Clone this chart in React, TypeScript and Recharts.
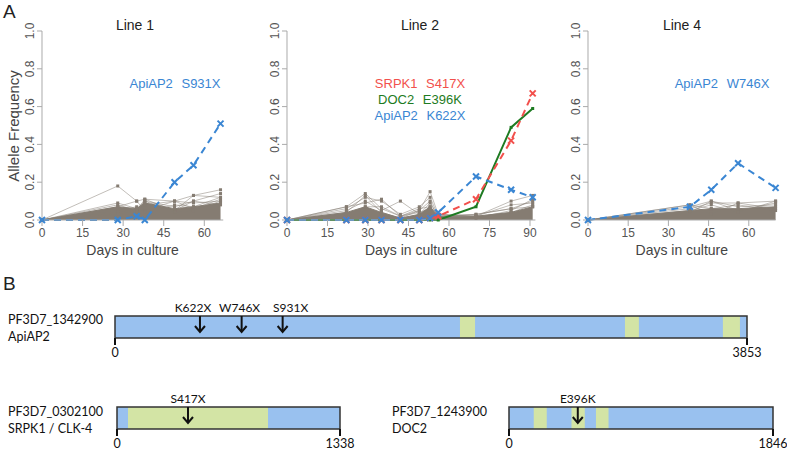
import React from 'react';
import {
  ComposedChart, Line, Area, XAxis, YAxis, ReferenceArea, Scatter,
} from 'recharts';

// ---- panel A: allele frequency over time ----
const L1_DAYS = [0, 28, 35, 38, 49, 56, 66];
const L1_APIAP2_S931X = [0, 0, 0.02, 0, 0.2, 0.29, 0.51];
const L1_MASS = [0, 0.07, 0.06, 0.09, 0.06, 0.07, 0.09];
const L1_GRAY = [
  [0, 0.18, 0.1, 0.11, 0.1, 0.13, 0.16],
  [0, 0.09, 0.06, 0.1, 0.07, 0.1, 0.14],
  [0, 0.08, 0.05, 0.11, 0.05, 0.13, 0.12],
  [0, 0.07, 0.1, 0.05, 0.1, 0.06, 0.11],
  [0, 0.06, 0.04, 0.08, 0.1, 0.09, 0.1],
  [0, 0.05, 0.07, 0.04, 0.08, 0.07, 0.12],
  [0, 0.04, 0.06, 0.09, 0.05, 0.1, 0.08],
  [0, 0.03, 0.05, 0.1, 0.04, 0.05, 0.1],
];

const L2_DAYS = [0, 22, 29, 35, 42, 49, 53, 56, 70, 83, 91];
const L2_SRPK1_S417X = [0, 0, 0, 0, 0, 0, 0.01, 0.02, 0.11, 0.42, 0.67];
const L2_DOC2_E396K = [0, 0, 0, 0, 0, 0, 0, 0, 0.07, 0.49, 0.59];
const L2_APIAP2_K622X = [0, 0, 0, 0, 0, 0, 0.01, 0.04, 0.23, 0.16, 0.12];
const L2_MASS = [0, 0.04, 0.07, 0.04, 0.01, 0.03, 0.07, 0.02, 0.02, 0.04, 0.07];
const L2_GRAY = [
  [0, 0.07, 0.14, 0.06, 0.02, 0.05, 0.15, 0.03, 0.02, 0.1, 0.13],
  [0, 0.06, 0.12, 0.1, 0.03, 0.07, 0.12, 0.02, 0.03, 0.06, 0.1],
  [0, 0.05, 0.1, 0.05, 0.1, 0.03, 0.09, 0.02, 0.01, 0.05, 0.11],
  [0, 0.07, 0.09, 0.11, 0.02, 0.06, 0.07, 0.03, 0.02, 0.08, 0.09],
  [0, 0.04, 0.13, 0.04, 0.01, 0.05, 0.1, 0.01, 0.02, 0.04, 0.08],
  [0, 0.03, 0.07, 0.07, 0.02, 0.04, 0.06, 0.02, 0.03, 0.06, 0.07],
];

const L4_DAYS = [0, 38, 46, 56, 70];
const L4_APIAP2_W746X = [0, 0.07, 0.16, 0.3, 0.17];
const L4_MASS = [0, 0.05, 0.06, 0.06, 0.07];
const L4_GRAY = [
  [0, 0.08, 0.03, 0.09, 0.1],
  [0, 0.07, 0.1, 0.05, 0.09],
  [0, 0.06, 0.09, 0.09, 0.06],
  [0, 0.05, 0.08, 0.04, 0.1],
  [0, 0.08, 0.06, 0.08, 0.05],
  [0, 0.04, 0.1, 0.07, 0.08],
];

const Y_TICKS = [0, 0.2, 0.4, 0.6, 0.8, 1.0];

// ---- panel B: gene models ----
const APIAP2_LEN = 3853;
const APIAP2_DOMAINS = [[2103, 2195], [3109, 3194], [3706, 3810]];
const APIAP2_MUTS = [
  { pos: 518, name: 'K622X' },
  { pos: 772, name: 'W746X' },
  { pos: 1022, name: 'S931X' },
];
const SRPK1_LEN = 1338;
const SRPK1_DOMAINS = [[66, 906]];
const SRPK1_MUTS = [{ pos: 426, name: 'S417X' }];
const DOC2_LEN = 1846;
const DOC2_DOMAINS = [[173, 264], [437, 530], [608, 696]];
const DOC2_MUTS = [{ pos: 481, name: 'E396K' }];

const BLUE = '#3a86d3';
const RED = '#f2504c';
const GREEN = '#1e7b22';
const GRAY = '#857c72';
const FONT_A = 'Liberation Sans, Arial, sans-serif';
const FONT_B = 'Lato, sans-serif';

// labels above the ApiAP2 arrows sit a little apart from the arrows themselves
const LABEL_NUDGE: Record<string, number> = { K622X: -7, W746X: -2, S931X: 8 };

const XDot = (props: any) => {
  const { cx, cy, stroke } = props;
  if (cx == null || cy == null) return null;
  return (
    <path d={`M${cx - 3},${cy - 3}L${cx + 3},${cy + 3}M${cx - 3},${cy + 3}L${cx + 3},${cy - 3}`}
      stroke={stroke} strokeWidth={2} fill="none" />
  );
};
const SquareDot = (props: any) => {
  const { cx, cy, stroke } = props;
  if (cx == null || cy == null) return null;
  return <rect x={cx - 1.5} y={cy - 1.5} width={3} height={3} fill={stroke} />;
};
const GrayDot = (props: any) => {
  const { cx, cy } = props;
  if (cx == null || cy == null) return null;
  return <rect x={cx - 1.5} y={cy - 1.5} width={3} height={3} fill={GRAY} />;
};

const YTick = (props: any) => {
  const { x, y, payload } = props;
  const bx = x - 1;
  return (
    <text x={bx} y={y} transform={`rotate(-90 ${bx} ${y})`} textAnchor="middle"
      fontSize={12} fill="#555" fontFamily={FONT_A}>
      {Number(payload.value).toFixed(1)}
    </text>
  );
};

type Highlight = { key: string; values: number[]; color: string; dashed: boolean; dot: any };

function FreqPanel({ plotLeft, maxDay, pxPerDay, ticks, days, gray, mass, highlights }: {
  plotLeft: number; maxDay: number; pxPerDay: number; ticks: number[]; days: number[];
  gray: number[][]; mass: number[]; highlights: Highlight[];
}) {
  const data = days.map((d, i) => {
    const row: any = { day: d, mass: mass[i] };
    gray.forEach((g, j) => { row['g' + j] = g[i]; });
    highlights.forEach((h) => { row[h.key] = h.values[i]; });
    return row;
  });
  const plotW = maxDay * pxPerDay;
  const yAxisW = 30;
  return (
    <div style={{ position: 'absolute', left: plotLeft - yAxisW, top: 0 }}>
      <ComposedChart width={yAxisW + plotW + 6} height={265} data={data}
        margin={{ top: 31, right: 6, bottom: 0, left: 0 }}>
        <XAxis dataKey="day" type="number" domain={[0, maxDay]} ticks={ticks} height={45}
          stroke="#aaa" tick={{ fill: '#555', fontSize: 12, fontFamily: FONT_A }}
          tickSize={6} tickMargin={2}
          label={{ value: 'Days in culture', position: 'insideBottom', offset: 10, fill: '#444', fontSize: 14, fontFamily: FONT_A }} />
        <YAxis type="number" domain={[0, 1]} ticks={Y_TICKS} width={yAxisW} stroke="#aaa"
          tick={<YTick />} tickSize={5} tickMargin={2} />
        {gray.map((_, j) => (
          <Line key={'g' + j} dataKey={'g' + j} stroke={GRAY} strokeOpacity={0.5} strokeWidth={1}
            dot={<GrayDot />} activeDot={false} isAnimationActive={false} />
        ))}
        <Area dataKey="mass" type="linear" fill={GRAY} fillOpacity={1} stroke={GRAY}
          strokeWidth={1} isAnimationActive={false} dot={<GrayDot />} activeDot={false} />
        {highlights.map((h) => (
          <Line key={h.key} dataKey={h.key} stroke={h.color} strokeWidth={2}
            strokeDasharray={h.dashed ? '7 5' : undefined} dot={h.dot} activeDot={false}
            isAnimationActive={false} />
        ))}
      </ComposedChart>
    </div>
  );
}

const ArrowShape = (props: any) => {
  const { cx, cy, payload } = props;
  const nudge = LABEL_NUDGE[payload.name] || 0;
  return (
    <g>
      <text x={cx + nudge} y={cy - 4} textAnchor="middle" fontSize={12} fontFamily={FONT_B} fill="#111">
        {payload.name}
      </text>
      <line x1={cx} y1={cy} x2={cx} y2={cy + 16} stroke="#111" strokeWidth={2} />
      <path d={`M${cx - 5},${cy + 10}L${cx},${cy + 16}L${cx + 5},${cy + 10}`} stroke="#111"
        strokeWidth={2} fill="none" />
    </g>
  );
};

function GeneTrack({ left, top, plotW, length, domains, muts }: {
  left: number; top: number; plotW: number; length: number;
  domains: number[][]; muts: { pos: number; name: string }[];
}) {
  const pts = muts.map((m) => ({ x: m.pos, y: 1, name: m.name }));
  return (
    <div style={{ position: 'absolute', left: left - 20, top: top - 24 }}>
      <ComposedChart width={plotW + 40} height={68} margin={{ top: 24, right: 20, bottom: 0, left: 20 }}>
        <XAxis dataKey="x" type="number" domain={[0, length]} ticks={[0, length]} height={22}
          axisLine={false} tickSize={7} tickMargin={3} tickLine={{ stroke: '#111', strokeWidth: 2 }}
          tick={{ fill: '#111', fontSize: 12.5, fontFamily: FONT_B }} interval={0} />
        <YAxis dataKey="y" type="number" domain={[0, 1]} hide />
        <ReferenceArea x1={0} x2={length} y1={0} y2={1} fill="#99c1ef" fillOpacity={1} stroke="none" />
        {domains.map((d, i) => (
          <ReferenceArea key={i} x1={d[0]} x2={d[1]} y1={0} y2={1} fill="#d3e4a5" fillOpacity={1} stroke="none" />
        ))}
        <ReferenceArea x1={0} x2={length} y1={0} y2={1} fill="none" stroke="#333" strokeWidth={1.5} />
        <Scatter data={pts} shape={<ArrowShape />} isAnimationActive={false} />
      </ComposedChart>
    </div>
  );
}

const txt = (s: any): React.CSSProperties => ({ position: 'absolute', whiteSpace: 'nowrap', lineHeight: 1, ...s });
const geneLabel = { fontSize: 12.5, fontFamily: FONT_B, color: '#111' };

export default function App() {
  return (
    <div style={{ position: 'absolute', left: 0, top: 0, width: 787, height: 453, background: '#fff', overflow: 'hidden' }}>
      <div style={txt({ left: 3, top: 2, fontSize: 19, fontFamily: FONT_A, color: '#222' })}>A</div>
      <div style={txt({ left: 3, top: 274, fontSize: 19, fontFamily: FONT_A, color: '#222' })}>B</div>
      <div style={txt({ left: 13, top: 126, fontSize: 15, fontFamily: FONT_A, color: '#444', transform: 'translate(-50%,-50%) rotate(-90deg)' })}>
        Allele Frequency
      </div>

      <FreqPanel plotLeft={42} maxDay={67} pxPerDay={2.705} ticks={[0, 15, 30, 45, 60]}
        days={L1_DAYS} gray={L1_GRAY} mass={L1_MASS}
        highlights={[{ key: 'a', values: L1_APIAP2_S931X, color: BLUE, dashed: true, dot: <XDot /> }]} />
      <FreqPanel plotLeft={287} maxDay={92} pxPerDay={2.7} ticks={[0, 15, 30, 45, 60, 75, 90]}
        days={L2_DAYS} gray={L2_GRAY} mass={L2_MASS}
        highlights={[
          { key: 'g', values: L2_DOC2_E396K, color: GREEN, dashed: false, dot: <SquareDot /> },
          { key: 'r', values: L2_SRPK1_S417X, color: RED, dashed: true, dot: <XDot /> },
          { key: 'b', values: L2_APIAP2_K622X, color: BLUE, dashed: true, dot: <XDot /> },
        ]} />
      <FreqPanel plotLeft={588} maxDay={70} pxPerDay={2.68} ticks={[0, 15, 30, 45, 60]}
        days={L4_DAYS} gray={L4_GRAY} mass={L4_MASS}
        highlights={[{ key: 'a', values: L4_APIAP2_W746X, color: BLUE, dashed: true, dot: <XDot /> }]} />

      <div style={txt({ left: 135, top: 25, fontSize: 14, fontFamily: FONT_A, color: '#222', transform: 'translate(-50%,-50%)' })}>Line 1</div>
      <div style={txt({ left: 420, top: 25, fontSize: 14, fontFamily: FONT_A, color: '#222', transform: 'translate(-50%,-50%)' })}>Line 2</div>
      <div style={txt({ left: 682, top: 25, fontSize: 14, fontFamily: FONT_A, color: '#222', transform: 'translate(-50%,-50%)' })}>Line 4</div>

      <div style={txt({ left: 175, top: 83, fontSize: 13, fontFamily: FONT_A, color: BLUE, transform: 'translate(-50%,-50%)', wordSpacing: 5 })}>ApiAP2 S931X</div>
      <div style={txt({ left: 420, top: 83, fontSize: 13, fontFamily: FONT_A, color: RED, transform: 'translate(-50%,-50%)', wordSpacing: 5 })}>SRPK1 S417X</div>
      <div style={txt({ left: 420, top: 99, fontSize: 13, fontFamily: FONT_A, color: GREEN, transform: 'translate(-50%,-50%)', wordSpacing: 5 })}>DOC2 E396K</div>
      <div style={txt({ left: 420, top: 115, fontSize: 13, fontFamily: FONT_A, color: BLUE, transform: 'translate(-50%,-50%)', wordSpacing: 5 })}>ApiAP2 K622X</div>
      <div style={txt({ left: 722, top: 83, fontSize: 13, fontFamily: FONT_A, color: BLUE, transform: 'translate(-50%,-50%)', wordSpacing: 5 })}>ApiAP2 W746X</div>

      <div style={txt({ left: 8, top: 314, ...geneLabel })}>PF3D7_1342900</div>
      <div style={txt({ left: 8, top: 331, ...geneLabel })}>ApiAP2</div>
      <div style={txt({ left: 8, top: 406, ...geneLabel })}>PF3D7_0302100</div>
      <div style={txt({ left: 8, top: 423, ...geneLabel })}>SRPK1 / CLK-4</div>
      <div style={txt({ left: 392, top: 406, ...geneLabel })}>PF3D7_1243900</div>
      <div style={txt({ left: 392, top: 423, ...geneLabel })}>DOC2</div>

      <GeneTrack left={115} top={316} plotW={632} length={APIAP2_LEN} domains={APIAP2_DOMAINS} muts={APIAP2_MUTS} />
      <GeneTrack left={117} top={407} plotW={223} length={SRPK1_LEN} domains={SRPK1_DOMAINS} muts={SRPK1_MUTS} />
      <GeneTrack left={509} top={407} plotW={264} length={DOC2_LEN} domains={DOC2_DOMAINS} muts={DOC2_MUTS} />
    </div>
  );
}
